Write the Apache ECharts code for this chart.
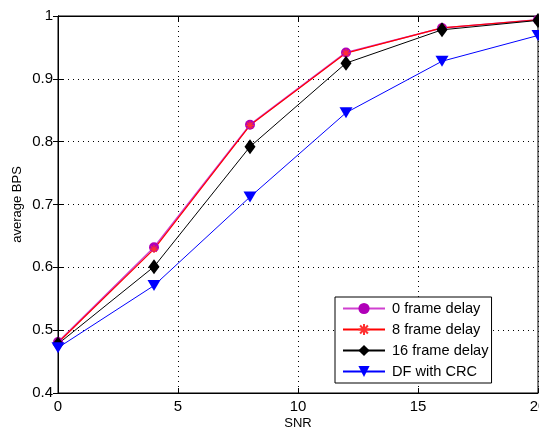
<!DOCTYPE html>
<html><head><meta charset="utf-8">
<script src="https://cdn.jsdelivr.net/npm/echarts@6/dist/echarts.min.js"></script>
<style>html,body{margin:0;padding:0;background:#fff}#c{width:539px;height:430px}</style>
</head><body><div id="c"></div>
<script>
const snr = [0, 4, 8, 12, 16, 20];
const delay0 = [0.481, 0.632, 0.827, 0.942, 0.981, 0.994];
const delay8 = [0.480, 0.629, 0.826, 0.941, 0.981, 0.994];
const delay16 = [0.478, 0.601, 0.792, 0.925, 0.978, 0.993];
const dfcrc = [0.472, 0.571, 0.712, 0.846, 0.928, 0.969];
const names = ['0 frame delay', '8 frame delay', '16 frame delay', 'DF with CRC'];

const star = 'path://M5,0L5,10M0,5L10,5M1.5,1.5L8.5,8.5M8.5,1.5L1.5,8.5';
const font = 'Liberation Sans';
function pts(v){ return snr.map((x,i)=>[x,v[i]]); }

const chart = echarts.init(document.getElementById('c'));
const axisCommon = {
  axisLine:{show:true,onZero:false,lineStyle:{color:'#000',width:1}},
  axisTick:{show:true,inside:true,length:5,lineStyle:{color:'#000'}},
  splitLine:{show:true,lineStyle:{color:'#000',type:[1,4],width:1}},
  axisLabel:{color:'#000',fontFamily:font,fontSize:14}
};
chart.setOption({
  animation:false,
  textStyle:{fontFamily:font},
  grid:{left:58,top:16,right:1,bottom:37,outerBoundsMode:'none',containLabel:false,show:true,borderColor:'#000',borderWidth:1,backgroundColor:'transparent'},
  xAxis:[Object.assign({type:'value',min:0,max:20,interval:5,name:'SNR',nameLocation:'middle',nameGap:24,nameMoveOverlap:false,
    nameTextStyle:{color:'#000',fontFamily:font,fontSize:13}},axisCommon,{axisLabel:{color:'#000',fontFamily:font,fontSize:15,margin:6}}),
    {type:'value',min:0,max:20,interval:5,position:'top',axisLine:{show:true,lineStyle:{color:'#000'}},axisTick:{show:true,inside:true,length:5,lineStyle:{color:'#000'}},axisLabel:{show:false},splitLine:{show:false}}],
  yAxis:[Object.assign({type:'value',min:0.4,max:1,interval:0.1,name:'average BPS',nameLocation:'middle',nameGap:34,nameRotate:90,nameMoveOverlap:false,
    nameTextStyle:{color:'#000',fontFamily:font,fontSize:13}},axisCommon,{axisLabel:{color:'#000',fontFamily:font,fontSize:15,margin:5,formatter:v=>String(+v.toFixed(1))}}),
    {type:'value',min:0.4,max:1,interval:0.1,position:'right',axisLine:{show:true,lineStyle:{color:'#000'}},axisTick:{show:true,inside:true,length:5,lineStyle:{color:'#000'}},axisLabel:{show:false},splitLine:{show:false}}],
  legend:{
    data:names,orient:'vertical',left:335,top:297,
    backgroundColor:'#fff',borderColor:'#000',borderWidth:1,borderRadius:0,
    padding:[4,3,4,7],itemGap:6,itemWidth:42,itemHeight:14,
    textStyle:{color:'#000',fontFamily:font,fontSize:14.6,padding:[0,0,0,2]}
  },
  series:[
    {name:names[0],type:'line',data:pts(delay0),symbol:'circle',symbolSize:10,
      lineStyle:{color:'#d040d0',width:1.5},itemStyle:{color:'#b000b8'}},
    {name:names[1],type:'line',data:pts(delay8),symbol:star,symbolSize:8,
      lineStyle:{color:'#ff0000',width:1.2},itemStyle:{color:'#ff3030',borderColor:'#ff3030',borderWidth:1.2}},
    {name:names[2],type:'line',data:pts(delay16),symbol:'diamond',symbolSize:[11,15],
      lineStyle:{color:'#000',width:1},itemStyle:{color:'#000'}},
    {name:names[3],type:'line',data:pts(dfcrc),symbol:'triangle',symbolRotate:180,symbolSize:[13,11],
      lineStyle:{color:'#0000ff',width:1},itemStyle:{color:'#0000ff'}}
  ]
});
</script></body></html>
